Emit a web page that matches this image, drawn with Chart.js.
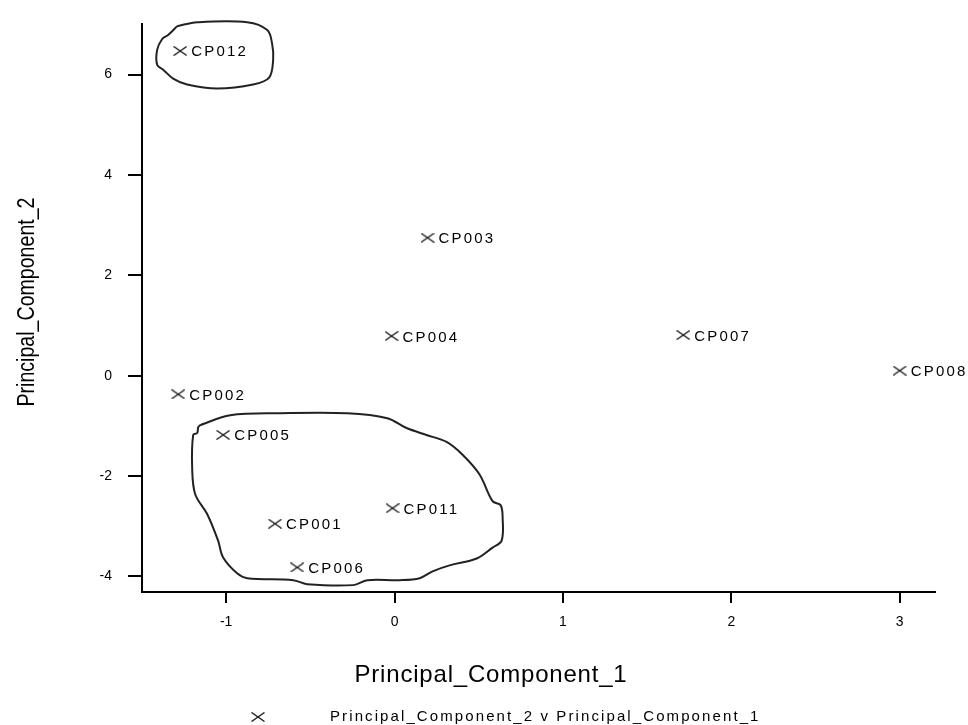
<!DOCTYPE html>
<html>
<head>
<meta charset="utf-8">
<script src="https://cdn.jsdelivr.net/npm/chart.js@4.4.1/dist/chart.umd.min.js"></script>
<style>
  html, body { margin: 0; padding: 0; background: #fff; }
  #box { width: 968px; height: 725px; position: relative; }
</style>
</head>
<body>
<div id="box"><canvas id="grafico"></canvas></div>
<script>
// dados
const rotulos = ['CP001', 'CP002', 'CP003', 'CP004', 'CP005', 'CP006', 'CP007', 'CP008', 'CP011', 'CP012'];
const pc1 = [-0.71, -1.285, 0.196, -0.018, -1.018, -0.578, 1.715, 3.0, -0.012, -1.273];
const pc2 = [-2.95, -0.37, 2.75, 0.79, -1.18, -3.82, 0.81, 0.10, -2.64, 6.47];

const ticksX = [-1, 0, 1, 2, 3];
const ticksY = [-4, -2, 0, 2, 4, 6];

// contornos desenhados à mão em volta dos grupos
const contornoCimaX = [-1.291, -1.172, -0.875, -0.756, -0.727, -0.721, -0.745, -0.840, -1.053, -1.232, -1.315, -1.374, -1.410, -1.410, -1.380, -1.345, -1.291];
const contornoCimaY = [6.965, 7.043, 7.043, 6.886, 6.610, 6.295, 5.941, 5.803, 5.724, 5.803, 5.921, 6.098, 6.197, 6.492, 6.709, 6.787, 6.965];

const contornoBaixoX = [-1.154, -0.976, -0.679, -0.281, -0.043, 0.071, 0.190, 0.309, 0.404, 0.505, 0.582, 0.630, 0.642, 0.636, 0.582, 0.488, 0.327, 0.226, 0.149, 0.030, -0.162, -0.245, -0.519, -0.602, -0.875, -0.935, -1.018, -1.048, -1.113, -1.184, -1.202, -1.196, -1.172, -1.166, -1.154];
const contornoBaixoY = [-0.984, -0.787, -0.748, -0.748, -0.846, -1.043, -1.181, -1.319, -1.575, -1.969, -2.500, -2.579, -2.835, -3.287, -3.425, -3.642, -3.780, -3.898, -4.035, -4.075, -4.075, -4.173, -4.154, -4.075, -4.035, -3.937, -3.622, -3.287, -2.756, -2.362, -1.850, -1.181, -1.142, -1.024, -0.984];

const tituloX = 'Principal_Component_1';
const tituloY = 'Principal_Component_2';
const textoLegenda = 'Principal_Component_2 v Principal_Component_1';

// marcador em forma de X (um pouco mais largo que alto)
function criarCruz() {
    const c = document.createElement('canvas');
    c.width = 14;
    c.height = 10;
    const g = c.getContext('2d');
    g.strokeStyle = '#222';
    g.lineWidth = 1.4;
    g.beginPath();
    g.moveTo(0.5, 0.5); g.lineTo(13.5, 9.5);
    g.moveTo(0.5, 9.5); g.lineTo(13.5, 0.5);
    g.stroke();
    return c;
}
const cruz = criarCruz();

const pontos = pc1.map((x, i) => ({ x: x, y: pc2[i] }));
const linhaCima = contornoCimaX.map((x, i) => ({ x: x, y: contornoCimaY[i] }));
const linhaBaixo = contornoBaixoX.map((x, i) => ({ x: x, y: contornoBaixoY[i] }));

const familia = '"Liberation Sans", Arial, sans-serif';

// rótulos dos pontos, títulos e legenda
const textosExtras = {
    id: 'textosExtras',
    afterDatasetsDraw(chart) {
        const c = chart.ctx;
        const meta = chart.getDatasetMeta(0);
        c.save();
        c.fillStyle = '#000';
        c.font = '15px ' + familia;
        c.letterSpacing = '2.2px';
        c.textAlign = 'left';
        c.textBaseline = 'alphabetic';
        meta.data.forEach((pt, i) => {
            c.fillText(rotulos[i], pt.x + 11, pt.y + 5.5);
        });
        c.restore();
    },
    afterDraw(chart) {
        const c = chart.ctx;
        const area = chart.chartArea;
        c.save();
        c.fillStyle = '#000';

        // título do eixo X
        c.font = '24px ' + familia;
        c.letterSpacing = '0.8px';
        c.textAlign = 'center';
        c.textBaseline = 'alphabetic';
        c.fillText(tituloX, 491, 682);

        // título do eixo Y (mais estreito, como no original)
        c.letterSpacing = '0px';
        c.font = '23px ' + familia;
        const larg = c.measureText(tituloY).width;
        c.save();
        c.translate(34, 302);
        c.rotate(-Math.PI / 2);
        c.scale(209 / larg, 1);
        c.textAlign = 'center';
        c.fillText(tituloY, 0, 0);
        c.restore();

        // legenda
        c.drawImage(cruz, 258 - 7, 717 - 5);
        c.font = '15px ' + familia;
        c.letterSpacing = '2.1px';
        c.textAlign = 'left';
        c.fillText(textoLegenda, 330, 721);
        c.restore();
    }
};

const fonteTick = { family: familia, size: 14 };

new Chart(document.getElementById('grafico').getContext('2d'), {
    type: 'scatter',
    data: {
        datasets: [
            {
                label: textoLegenda,
                data: pontos,
                pointStyle: cruz,
                pointRadius: 6,
                pointHoverRadius: 6,
                showLine: false
            },
            {
                label: 'grupo1',
                data: linhaCima,
                showLine: true,
                borderColor: '#222',
                borderWidth: 2,
                tension: 0.35,
                pointRadius: 0,
                fill: false,
                clip: false
            },
            {
                label: 'grupo2',
                data: linhaBaixo,
                showLine: true,
                borderColor: '#222',
                borderWidth: 2,
                tension: 0.35,
                pointRadius: 0,
                fill: false,
                clip: false
            }
        ]
    },
    options: {
        responsive: true,
        maintainAspectRatio: false,
        animation: false,
        layout: { padding: { left: 0, right: 33, top: 17, bottom: 83 } },
        plugins: {
            legend: { display: false },
            tooltip: { enabled: false }
        },
        scales: {
            x: {
                type: 'linear',
                min: -1.5,
                max: 3.21,
                afterBuildTicks: (s) => { s.ticks = ticksX.map(v => ({ value: v })); },
                afterFit: (s) => { s.height = 50; },
                grid: { drawOnChartArea: false, drawTicks: true, tickLength: 11, color: '#000', lineWidth: 2 },
                border: { display: true, color: '#000', width: 2 },
                ticks: { color: '#000', font: fonteTick, padding: 11, maxRotation: 0 }
            },
            y: {
                type: 'linear',
                min: -4.31,
                max: 7.0,
                afterBuildTicks: (s) => { s.ticks = ticksY.map(v => ({ value: v })); },
                afterFit: (s) => { s.width = 142; },
                grid: { drawOnChartArea: false, drawTicks: true, tickLength: 14, color: '#000', lineWidth: 2 },
                border: { display: true, color: '#000', width: 2 },
                ticks: { color: '#000', font: fonteTick, padding: 16 }
            }
        }
    },
    plugins: [textosExtras]
});
</script>
</body>
</html>
